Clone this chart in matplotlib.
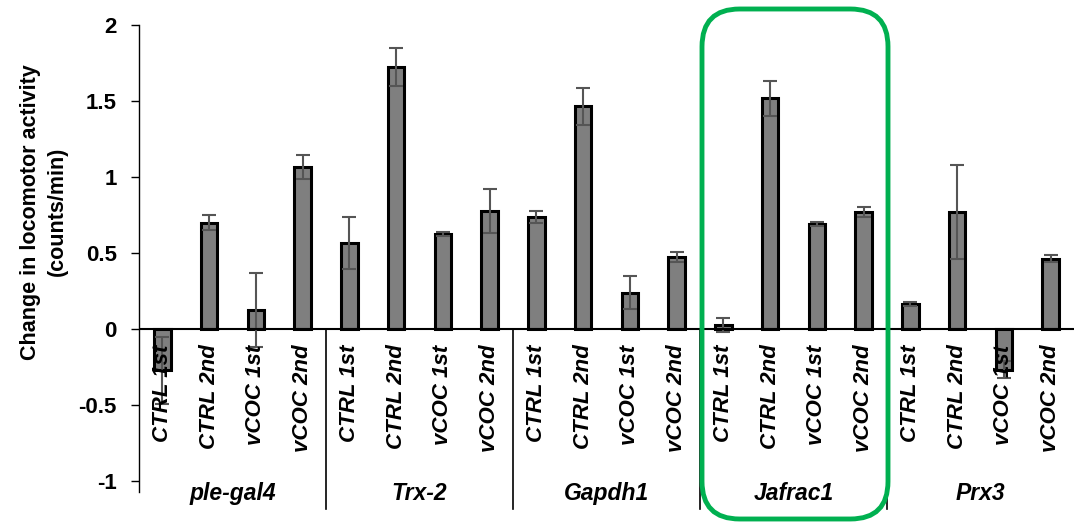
import numpy as np
import matplotlib
matplotlib.use("Agg")
import matplotlib.pyplot as plt
from matplotlib.patches import FancyBboxPatch

plt.rcParams['font.family'] = ['Liberation Sans', 'DejaVu Sans']

# groups (genes) and conditions inside each group
genes = ["ple-gal4", "Trx-2", "Gapdh1", "Jafrac1", "Prx3"]
conditions = ["CTRL 1st", "CTRL 2nd", "vCOC 1st", "vCOC 2nd"]

# mean change per gene, in condition order
ple_gal4 = [-0.27, 0.70, 0.125, 1.065]
trx2 = [0.565, 1.725, 0.625, 0.78]
gapdh1 = [0.74, 1.465, 0.24, 0.475]
jafrac1 = [0.025, 1.52, 0.69, 0.77]
prx3 = [0.165, 0.77, -0.265, 0.465]

# error bars
ple_gal4_err = [0.22, 0.05, 0.245, 0.08]
trx2_err = [0.17, 0.127, 0.015, 0.145]
gapdh1_err = [0.04, 0.12, 0.11, 0.03]
jafrac1_err = [0.046, 0.115, 0.012, 0.035]
prx3_err = [0.015, 0.31, 0.055, 0.025]

values = ple_gal4 + trx2 + gapdh1 + jafrac1 + prx3
errors = ple_gal4_err + trx2_err + gapdh1_err + jafrac1_err + prx3_err
labels = conditions * len(genes)

fig = plt.figure(figsize=(10.75, 5.29), dpi=100)
ax = fig.add_axes([139 / 1075, 37 / 529, 935 / 1075, 467 / 529])

x = np.arange(len(values))
ax.bar(x, values, width=0.35, color="#7f7f7f", edgecolor="black",
       linewidth=2.2, zorder=2)
ax.errorbar(x, values, yerr=errors, fmt="none", ecolor="#555555",
            elinewidth=1.5, capsize=5, capthick=1.5, zorder=3)

ax.set_xlim(-0.5, len(values) - 0.5)
ax.set_ylim(-1.07, 2)
ax.set_yticks([-1, -0.5, 0, 0.5, 1, 1.5, 2])
ax.set_yticklabels(["-1", "-0.5", "0", "0.5", "1", "1.5", "2"],
                   fontsize=16, fontweight="bold")
ax.tick_params(axis="y", length=6, width=1, pad=10)
ax.set_xticks([])

for s in ["top", "right", "bottom"]:
    ax.spines[s].set_visible(False)
ax.spines["left"].set_linewidth(1)

ax.axhline(0, color="black", linewidth=1.5, zorder=4)

# separators between genes
for i in range(1, len(genes)):
    sx = i * len(conditions) - 0.5
    ax.plot([sx, sx], [0, -1.18], color="black", linewidth=1.2,
            clip_on=False, zorder=4)

# condition labels (rotated)
for xi, lab in zip(x, labels):
    ax.text(xi, -0.1, lab, rotation=90, ha="center", va="top",
            fontsize=16, fontweight="bold", fontstyle="italic", zorder=5)

# gene labels
for i, g in enumerate(genes):
    gx = i * len(conditions) + (len(conditions) - 1) / 2
    ax.text(gx, -1.125, g, ha="center", va="baseline", fontsize=16.5,
            fontweight="bold", fontstyle="italic", zorder=5)

ax.set_ylabel("Change in locomotor activity\n(counts/min)", fontsize=15.5,
              fontweight="bold", linespacing=1.35, va="center")
ax.yaxis.set_label_coords(-0.1016, 0.60)

# highlight box around Jafrac1
box = FancyBboxPatch((702 / 1075, 1 - 519 / 529), 186 / 1075, 510 / 529,
                     boxstyle="round,pad=0,rounding_size=0.035",
                     transform=fig.transFigure, fill=False,
                     edgecolor="#00b050", linewidth=3.5,
                     mutation_aspect=1075 / 529, zorder=6)
fig.patches.append(box)

fig.savefig("out.png", dpi=100)
